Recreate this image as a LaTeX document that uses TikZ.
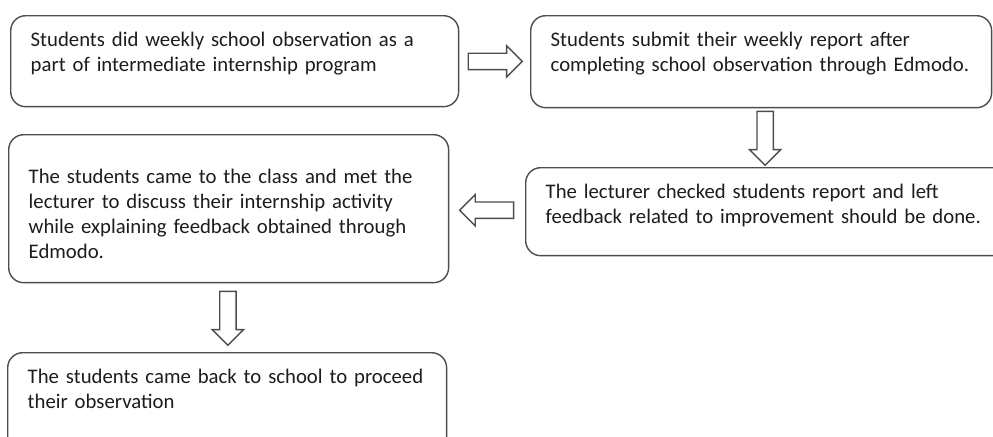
\documentclass[tikz,border=0pt]{standalone}
\usepackage{fontspec}
\setmainfont{Carlito}
\usetikzlibrary{shapes.arrows,calc}
\definecolor{linegray}{HTML}{4D4D4D}
\definecolor{textgray}{HTML}{1C1C1C}
\begin{document}
\begin{tikzpicture}[x=0.02cm,y=-0.02cm,
      box/.style={draw=linegray, line width=0.8pt, rounded corners=0.3cm,
        anchor=north west, align=left, inner xsep=0.4cm, inner ysep=0.3cm,
        text height=0.32cm, text=textgray,
        font=\fontsize{11.8}{14.2}\selectfont},
      blockarrow/.style={single arrow, draw=linegray, line width=0.8pt,
        minimum height=1.08cm, inner sep=0.15cm,
        single arrow head extend=0.15cm, single arrow head indent=0pt}]
    \useasboundingbox (0,0) rectangle (993,436);
    \clip (0,0) rectangle (993,436);
        \node[box, text width=8.16cm, text depth=0.90cm] (b1) at (10,15)
            {Students did weekly school observation as a\\
             part of intermediate internship program};
        \node[box, text width=8.42cm, text depth=0.92cm] (b2) at (530,15)
            {Students submit their weekly report after\\
             completing school observation through Edmodo.};
        \node[box, text width=8.9cm, text depth=0.84cm] (b3) at (525,167)
            {The lecturer checked students report and left\\
             feedback related to improvement should be done.};
        \node[box, text width=8.0cm, text height=0.68cm, text depth=1.68cm] (b4) at (8,134)
            {The students came to the class and met the\\
             lecturer to discuss their internship activity\\
             while explaining feedback obtained through\\
             Edmodo.};
        \node[box, text width=7.98cm, text depth=1.08cm] (b5) at (7,352)
            {The students came back to school to proceed\\
             their observation};
        \node[blockarrow, xshift=-0.07cm] (a12) at ($(b1.east)!0.5!(b2.west)$) {};
        \node[blockarrow, rotate=-90, xshift=-0.07cm, yshift=0.08cm] (a23)
            at ($(b2.south)!0.5!(b2.south |- b3.north)$) {};
        \node[blockarrow, rotate=180, xshift=-0.07cm] (a34) at ($(b3.west)!0.5!(b4.east)$) {};
        \node[blockarrow, rotate=-90, xshift=-0.07cm] (a45) at ($(b4.south)!0.5!(b5.north)$) {};
    \end{tikzpicture}
\end{document}
